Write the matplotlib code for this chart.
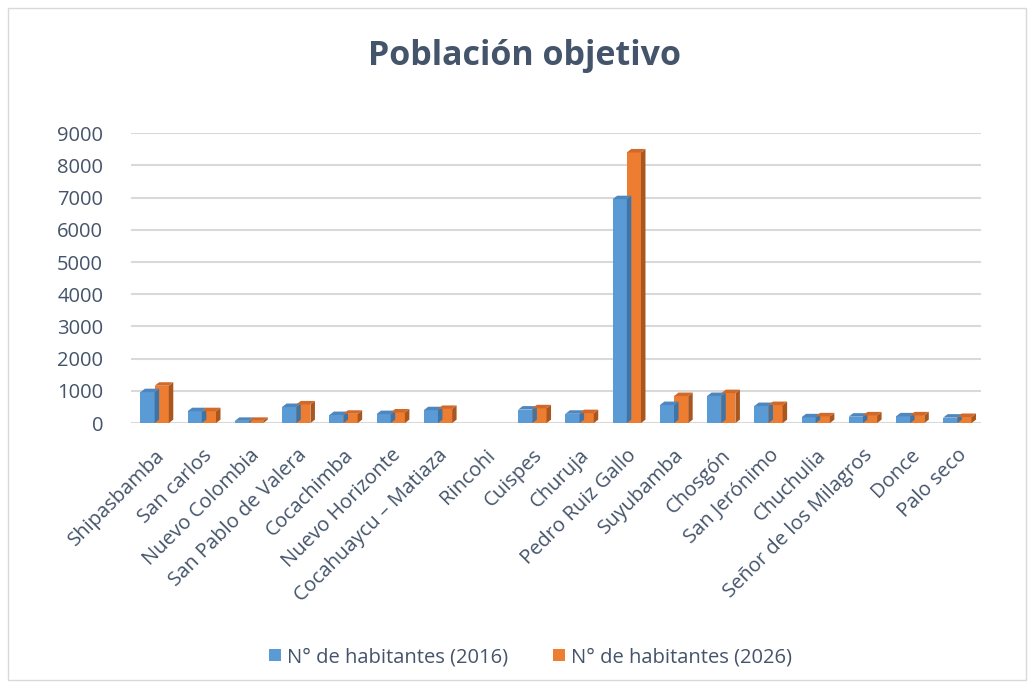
import numpy as np
import matplotlib.pyplot as plt
from matplotlib.patches import Polygon, Rectangle

# data
localidades = [
    'Shipasbamba', 'San carlos', 'Nuevo Colombia', 'San Pablo de Valera',
    'Cocachimba', 'Nuevo Horizonte', 'Cocahuaycu – Matiaza', 'Rincohi',
    'Cuispes', 'Churuja', 'Pedro Ruiz Gallo', 'Suyubamba', 'Chosgón',
    'San Jerónimo', 'Chuchulia', 'Señor de los Milagros', 'Donce', 'Palo seco'
]
hab_2016 = [960, 370, 70, 500, 250, 280, 400, 0, 420, 290, 6950, 560, 840, 530, 180, 200, 210, 170]
hab_2026 = [1160, 370, 70, 580, 290, 330, 440, 0, 460, 310, 8400, 840, 930, 560, 210, 240, 240, 190]
yticks = [0, 1000, 2000, 3000, 4000, 5000, 6000, 7000, 8000, 9000]

label_2016 = 'N° de habitantes (2016)'
label_2026 = 'N° de habitantes (2026)'

BLUE = '#5B9BD5'
ORANGE = '#ED7D31'
SIDE = {BLUE: '#3F74A6', ORANGE: '#A9571F'}
TOP = {BLUE: '#4F86BD', ORANGE: '#D0692A'}
TEXT = '#44546A'

plt.rcParams['font.family'] = ['Open Sans', 'DejaVu Sans']

fig = plt.figure(figsize=(10.34, 6.88), dpi=100)
fig.patches.append(Rectangle((0.008, 0.012), 0.984, 0.976, transform=fig.transFigure,
                             fill=False, edgecolor='#D9D9D9', linewidth=1.0))
ax = fig.add_axes([0.1267, 0.385, 0.822, 0.4215])

x = np.arange(len(localidades))
w = 0.3
b1 = ax.bar(x - w / 2, hab_2016, w, color=BLUE, label=label_2016, zorder=3)
b2 = ax.bar(x + w / 2, hab_2026, w, color=ORANGE, label=label_2026, zorder=3)

ax.set_xlim(-0.5, len(localidades) - 0.5)
ax.set_ylim(0, 9000)
ax.set_yticks(yticks)
ax.yaxis.grid(True, color='#D9D9D9', linewidth=1.5, zorder=0)
ax.set_axisbelow(True)
for s in ax.spines.values():
    s.set_visible(False)
ax.tick_params(axis='both', length=0, colors=TEXT, labelsize=14.5)
ax.tick_params(axis='y', pad=20)
ax.tick_params(axis='x', pad=16)
ax.set_xticks(x)
ax.set_xticklabels(localidades, rotation=45, ha='right', rotation_mode='anchor')

# fake 3D depth: side and top faces, offsets in pixels
dx, dy = 4.5, 3.5
fig.canvas.draw()
for bars in (b1, b2):
    for rect in bars:
        h = rect.get_height()
        if h <= 0:
            continue
        key = BLUE if bars is b1 else ORANGE
        x0, y0 = ax.transData.transform((rect.get_x(), 0))
        x1, y1 = ax.transData.transform((rect.get_x() + rect.get_width(), h))
        side = [(x1, y0), (x1 + dx, y0 + dy), (x1 + dx, y1 + dy), (x1, y1)]
        top = [(x0, y1), (x0 + dx, y1 + dy), (x1 + dx, y1 + dy), (x1, y1)]
        fig.patches.append(Polygon(side, closed=True, transform=None,
                                   facecolor=SIDE[key], edgecolor='none', zorder=4))
        fig.patches.append(Polygon(top, closed=True, transform=None,
                                   facecolor=TOP[key], edgecolor='none', zorder=4))

fig.suptitle('Población objetivo', x=0.507, y=0.943, fontsize=24.5, fontweight='bold', color=TEXT)
fig.legend(handles=[b1, b2], loc='center', bbox_to_anchor=(0.513, 0.045), ncol=2,
           frameon=False, fontsize=14.5, labelcolor=TEXT, handlelength=0.6, handleheight=0.6,
           columnspacing=2.2, handletextpad=0.3)

fig.savefig('out.png', dpi=100, facecolor='white')
